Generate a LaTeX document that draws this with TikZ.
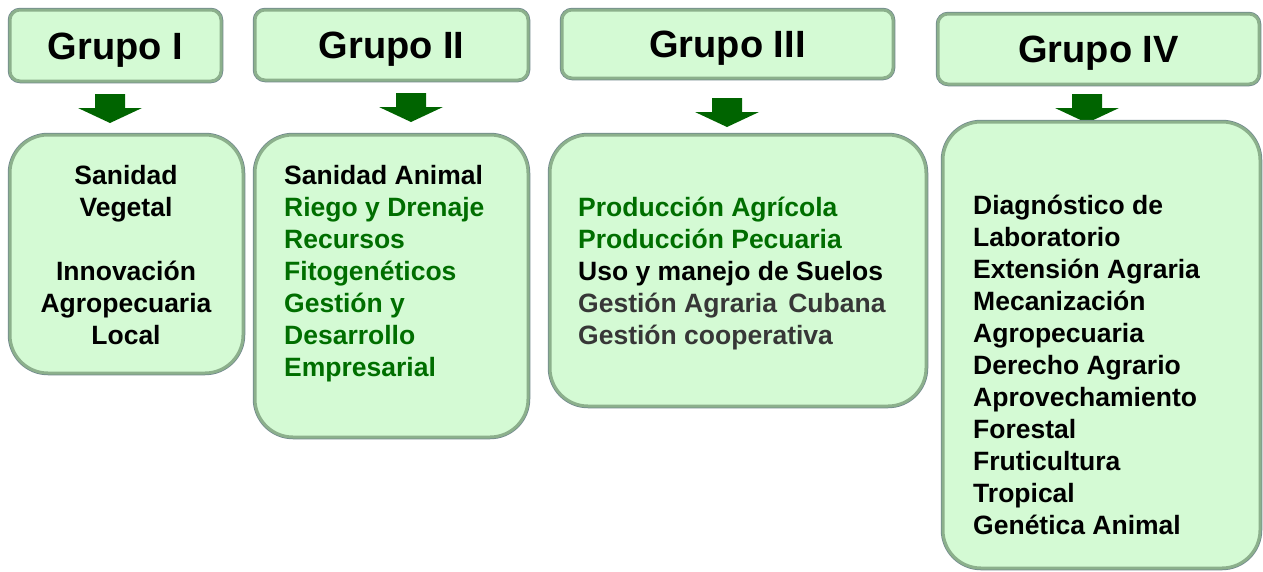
\documentclass[tikz,border=0pt]{standalone}
\usepackage{fontspec}
\setmainfont{Liberation Sans}
\usepackage{xcolor}
\usepackage{tikz}

\definecolor{cajafondo}{RGB}{212,250,212}
\definecolor{bisel}{RGB}{140,176,140}
\definecolor{borde}{RGB}{112,136,140}
\definecolor{flechaverde}{RGB}{0,100,0}
\definecolor{verde}{RGB}{0,110,0}
\definecolor{gris}{RGB}{55,55,55}

\newcommand{\titulofont}{\fontsize{38pt}{44pt}\selectfont\bfseries}
\newcommand{\listafont}{\fontsize{26.5pt}{32pt}\selectfont\bfseries}

\tikzset{
    grupo/.style={rounded corners=10, fill=cajafondo, draw=bisel, line width=3,
        preaction={draw=borde, line width=4.5}, inner sep=0, font=\titulofont,
        text height=27, text depth=0},
    tema/.style={rounded corners=38, fill=cajafondo, draw=bisel, line width=3,
        preaction={draw=borde, line width=4.5}, inner sep=0},
    lista/.style={inner sep=0, align=left, font=\listafont},
    flecha/.pic={
        \fill[flechaverde] (-15,0) -- (15,0) -- (15,14) -- (32,14) -- (0,29)
            -- (-32,14) -- (-15,14) -- cycle;
    }
}

\begin{document}
\begin{tikzpicture}[x=1pt, y=-1pt]
    \useasboundingbox (0,0) rectangle (1263,571);

    % titulos de los grupos
    \node[grupo, minimum width=211, minimum height=71] (g1) at (115.5,45.5) {Grupo I};
    \node[grupo, minimum width=273, minimum height=70] (g2) at (391.5,45) {Grupo II};
    \node[grupo, minimum width=331, minimum height=68] (g3) at (727.5,44) {Grupo III};
    \node[grupo, minimum width=321, minimum height=70] (g4) at (1098.5,49) {Grupo IV};

    % flechas
    \pic at (110,94) {flecha};
    \pic at (411,93) {flecha};
    \pic at (727,98) {flecha};
    \pic at (1087,94) {flecha};

    % cajas de disciplinas
    \node[tema, minimum width=233, minimum height=238] (c1) at (126.5,254) {};
    \node[tema, minimum width=273, minimum height=302] (c2) at (391.5,286) {};
    \node[tema, minimum width=376, minimum height=271] (c3) at (738,270.5) {};
    \node[tema, minimum width=317, minimum height=446] (c4) at (1101.5,345) {};

    \node[lista, align=center] (l1) at (126,255) {Sanidad\\Vegetal\\[32pt]Innovación\\Agropecuaria\\Local};
    \node[lista, anchor=north west] (l2) at (284,165) {Sanidad Animal\\
        \textcolor{verde}{Riego y Drenaje}\\
        \textcolor{verde}{Recursos}\\
        \textcolor{verde}{Fitogenéticos}\\
        \textcolor{verde}{Gestión y}\\
        \textcolor{verde}{Desarrollo}\\
        \textcolor{verde}{Empresarial}};
    \node[lista, anchor=north west] (l3) at (578,197) {\textcolor{verde}{Producción Agrícola}\\
        \textcolor{verde}{Producción Pecuaria}\\
        Uso y manejo de Suelos\\
        \textcolor{gris}{Gestión Agraria\hspace{4pt} Cubana}\\
        \textcolor{gris}{Gestión cooperativa}};
    \node[lista, anchor=north west] (l4) at (973,195) {Diagnóstico de\\Laboratorio\\Extensión Agraria\\
        Mecanización\\Agropecuaria\\Derecho Agrario\\Aprovechamiento\\Forestal\\Fruticultura\\
        Tropical\\Genética Animal};
\end{tikzpicture}
\end{document}
